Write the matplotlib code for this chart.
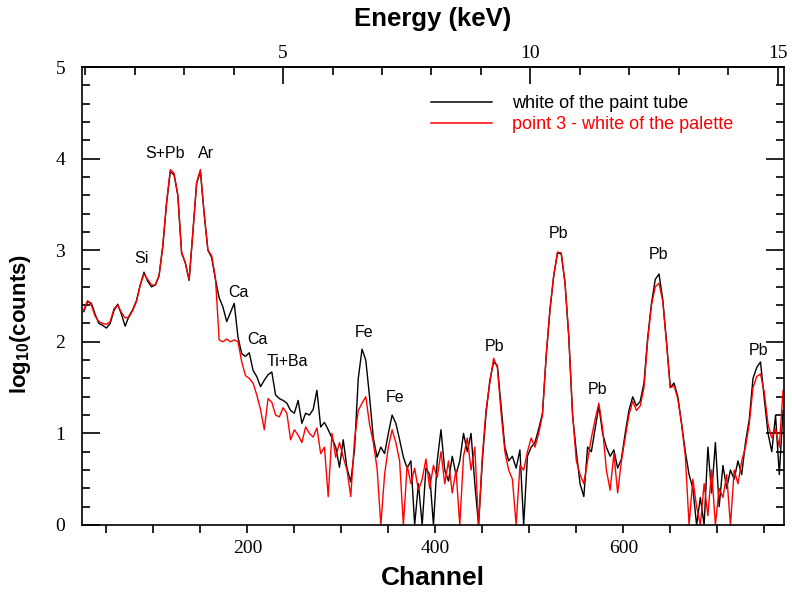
import numpy as np
import matplotlib
matplotlib.use('Agg')
import matplotlib.pyplot as plt
from matplotlib.ticker import MultipleLocator, NullFormatter
from matplotlib.lines import Line2D
from matplotlib.transforms import blended_transform_factory

plt.rcParams['mathtext.fontset'] = 'custom'
plt.rcParams['mathtext.rm'] = 'Liberation Sans'
plt.rcParams['mathtext.bf'] = 'Liberation Sans:bold'

# channel grid of the read-off spectra (every 4 channels)
channel = np.arange(26, 771, 4)

# log10(counts), white of the paint tube
tube = [2.33, 2.44, 2.42, 2.30, 2.20, 2.18, 2.15, 2.20, 2.34, 2.41,
        2.30, 2.17, 2.28, 2.35, 2.45, 2.62, 2.76, 2.66, 2.60, 2.62,
        2.72, 3.04, 3.51, 3.86, 3.82, 3.60, 2.97, 2.86, 2.67, 3.19,
        3.73, 3.86, 3.40, 3.00, 2.92, 2.68, 2.48, 2.38, 2.22, 2.32,
        2.42, 2.05, 1.87, 1.84, 1.88, 1.69, 1.62, 1.51, 1.58, 1.64,
        1.67, 1.42, 1.38, 1.36, 1.33, 1.25, 1.22, 1.36, 1.11, 1.22,
        1.20, 1.26, 1.47, 1.07, 1.12, 1.04, 0.95, 0.85, 0.63, 0.93,
        0.62, 0.47, 0.82, 1.60, 1.92, 1.80, 1.40, 0.95, 0.74, 0.85,
        0.78, 1.00, 1.20, 1.11, 0.93, 0.74, 0.62, 0.70, 0.00, 0.45,
        0.00, 0.62, 0.55, 0.00, 0.70, 1.04, 0.60, 0.48, 0.75, 0.55,
        0.70, 1.00, 0.80, 1.00, 0.45, 0.00, 0.70, 1.22, 1.58, 1.78,
        1.74, 1.30, 0.85, 0.70, 0.75, 0.62, 0.82, 0.00, 0.75, 0.85,
        0.90, 1.05, 1.22, 1.85, 2.35, 2.72, 2.97, 2.96, 2.64, 2.05,
        1.20, 0.80, 0.45, 0.31, 0.85, 0.80, 1.05, 1.30, 1.00, 0.85,
        0.75, 0.82, 0.62, 0.72, 1.00, 1.25, 1.40, 1.30, 1.35, 1.55,
        2.05, 2.42, 2.68, 2.74, 2.46, 2.00, 1.50, 1.55, 1.40, 1.11,
        0.80, 0.55, 0.40, 0.00, 0.30, 0.00, 0.85, 0.35, 0.90, 0.20,
        0.65, 0.40, 0.60, 0.50, 0.70, 0.55, 0.90, 1.15, 1.60, 1.72,
        1.78, 1.38, 1.00, 0.80, 1.20, 0.55, 1.25]

# log10(counts), point 3 - white of the palette
palette = [2.35, 2.45, 2.40, 2.28, 2.22, 2.20, 2.19, 2.22, 2.36, 2.40,
           2.32, 2.26, 2.27, 2.34, 2.44, 2.62, 2.74, 2.68, 2.62, 2.62,
           2.72, 3.05, 3.52, 3.88, 3.84, 3.60, 2.98, 2.86, 2.68, 3.20,
           3.74, 3.88, 3.40, 3.00, 2.94, 2.70, 2.02, 2.00, 2.03, 2.00,
           2.02, 2.00, 1.78, 1.63, 1.60, 1.55, 1.42, 1.26, 1.04, 1.38,
           1.34, 1.20, 1.18, 1.28, 1.22, 0.93, 1.04, 0.98, 0.90, 1.07,
           1.00, 0.96, 1.06, 0.78, 0.85, 0.31, 1.00, 0.74, 0.90, 0.74,
           0.60, 0.31, 0.93, 1.25, 1.33, 1.40, 1.10, 0.90, 0.62, 0.00,
           0.55, 0.85, 1.04, 0.90, 0.70, 0.00, 0.65, 0.45, 0.62, 0.38,
           0.50, 0.72, 0.40, 0.65, 0.52, 0.80, 0.45, 0.70, 0.35, 0.60,
           0.00, 0.75, 0.95, 0.60, 0.85, 0.00, 0.75, 1.26, 1.55, 1.82,
           1.72, 1.22, 0.80, 0.60, 0.50, 0.00, 0.65, 0.60, 0.80, 0.95,
           0.85, 1.00, 1.20, 1.86, 2.36, 2.73, 2.98, 2.97, 2.64, 2.06,
           1.22, 0.70, 0.55, 0.45, 0.70, 0.95, 1.15, 1.33, 1.05, 0.60,
           0.38, 0.78, 0.35, 0.70, 0.95, 1.20, 1.35, 1.25, 1.30, 1.50,
           2.02, 2.40, 2.60, 2.64, 2.44, 1.98, 1.50, 1.52, 1.38, 1.10,
           0.75, 0.00, 0.50, 0.20, 0.00, 0.45, 0.10, 0.60, 0.00, 0.40,
           0.30, 0.55, 0.00, 0.60, 0.45, 0.70, 0.85, 1.10, 1.50, 1.62,
           1.65, 1.45, 1.10, 0.95, 1.05, 0.85, 1.47]

# peak labels: text, channel, log10(counts)
peak_names = ['Si', 'S+Pb', 'Ar', 'Ca', 'Ca', 'Ti+Ba', 'Fe', 'Fe',
              'Pb', 'Pb', 'Pb', 'Pb', 'Pb']
peak_ch = [87, 112, 156, 190, 211, 243, 324, 357, 463, 531, 573, 637, 744]
peak_y = [2.91, 4.06, 4.06, 2.54, 2.03, 1.78, 2.10, 1.39, 1.95, 3.18, 1.48, 2.95, 1.90]

# energy calibration (keV per channel, offset) and labelled energies
kev_per_ch = 0.019
kev_offset = 0.478
kev_labels = [5, 10, 15]

fig = plt.figure(figsize=(7.92, 5.94), dpi=100)
ax = fig.add_axes([0.1035, 0.1162, 0.8864, 0.771])

ax.plot(channel, tube, color='black', lw=1.0)
ax.plot(channel, palette, color='red', lw=1.0)

for name, c, y in zip(peak_names, peak_ch, peak_y):
    ax.text(c, y, name, ha='center', va='center', fontsize=11.5,
            family='Liberation Sans')

ax.set_xlim(24, 771)
ax.set_ylim(0, 5)

ax.xaxis.set_major_locator(MultipleLocator(200))
ax.xaxis.set_minor_locator(MultipleLocator(50))
ax.yaxis.set_major_locator(MultipleLocator(1))
ax.yaxis.set_minor_locator(MultipleLocator(0.2))
ax.tick_params(axis='x', which='both', direction='out', length=6, width=1.2,
               top=False, pad=5)
ax.tick_params(axis='y', which='major', direction='in', length=13, width=1.2,
               right=True, pad=12)
ax.tick_params(axis='y', which='minor', direction='in', length=6, width=1.2,
               right=True)
for lab in ax.get_xticklabels() + ax.get_yticklabels():
    lab.set_fontfamily('Liberation Serif')
    lab.set_fontsize(14)

sec = ax.secondary_xaxis('top', functions=(lambda c: kev_per_ch * c + kev_offset,
                                           lambda e: (e - kev_offset) / kev_per_ch))
sec.xaxis.set_major_locator(MultipleLocator(5))
sec.xaxis.set_minor_locator(MultipleLocator(1))
sec.xaxis.set_major_formatter(NullFormatter())
sec.tick_params(which='major', direction='in', length=12, width=1.2)
sec.tick_params(which='minor', direction='in', length=6, width=1.2)
sec.spines['top'].set_linewidth(1.2)
sec.set_xlabel('Energy (keV)', fontsize=18.5, fontweight='bold',
               family='Liberation Sans', labelpad=26)

# top energy labels
top_tr = blended_transform_factory(ax.transData, ax.transAxes)
for e in kev_labels:
    ax.text((e - kev_offset) / kev_per_ch, 1.012, str(e), transform=top_tr,
            ha='center', va='bottom', fontsize=14, family='Liberation Serif')

for s in ax.spines.values():
    s.set_linewidth(1.2)

ax.set_xlabel('Channel', fontsize=19, fontweight='bold', family='Liberation Sans',
              labelpad=6)
ax.set_ylabel(r'$\mathbf{log_{10}(counts)}$', fontsize=16)
ax.yaxis.set_label_coords(-0.07, 0.44)

handles = [Line2D([], [], color='black', lw=1.1), Line2D([], [], color='red', lw=1.1)]
leg = ax.legend(handles, ['white of the paint tube', 'point 3 - white of the palette'],
                loc='upper left', bbox_to_anchor=(0.497, 0.939), frameon=False,
                prop={'family': 'Liberation Sans', 'size': 13}, handlelength=3.4,
                handletextpad=1.1, labelspacing=0.25, borderpad=0, borderaxespad=0)
leg.get_texts()[1].set_color('red')

fig.savefig('out.png', dpi=100)
